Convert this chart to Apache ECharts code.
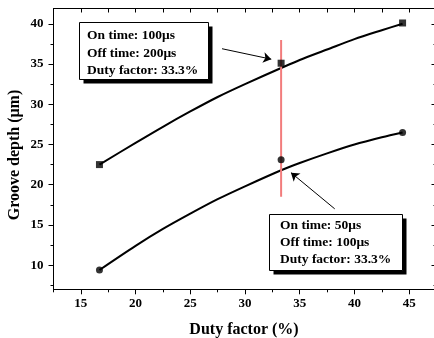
<!DOCTYPE html>
<html>
<head>
<meta charset="utf-8">
<script src="https://cdn.jsdelivr.net/npm/echarts@6/dist/echarts.min.js"></script>
<style>html,body{margin:0;padding:0;background:#fff;overflow:hidden;width:434px;height:338px}#c{width:437px;height:338px}</style>
</head>
<body>
<div id="c"></div>
<script>
// ---- data ----
var dutyFactor = [16.7, 33.3, 44.4];
var depthOn100 = [22.5, 35.1, 40.1];
var depthOn50 = [9.4, 23.1, 26.5];
var fitX = [16.7, 20, 22.5, 25, 27.5, 30, 33.3, 35, 37.5, 40, 42.5, 44.4];
var fitOn100 = [22.5, 25.2, 27.2, 29.1, 30.9, 32.5, 34.5, 35.5, 36.8, 38.1, 39.2, 40.0];
var fitOn50 = [9.4, 12.4, 14.5, 16.4, 18.2, 19.8, 21.8, 22.7, 23.9, 25.0, 25.9, 26.5];
var markerDuty = 33.3;
var markerRange = [18.5, 38.0];
var xMajorTicks = [15, 20, 25, 30, 35, 40, 45];
var xMinorTicks = [12.5, 17.5, 22.5, 27.5, 32.5, 37.5, 42.5, 47.5];
var yMajorTicks = [10, 15, 20, 25, 30, 35, 40];
var yMinorTicks = [7.5, 12.5, 17.5, 22.5, 27.5, 32.5, 37.5];
var box1Lines = ['On time: 100\u03bcs', 'Off time: 200\u03bcs', 'Duty factor: 33.3%'];
var box2Lines = ['On time: 50\u03bcs', 'Off time: 100\u03bcs', 'Duty factor: 33.3%'];
var arrow1 = [[27.9, 36.9], [32.4, 35.6]];
var arrow2 = [[38.2, 17.0], [34.2, 21.5]];
var xTitle = 'Duty factor (%)';
var yTitle = 'Groove depth (\u03bcm)';

// ---- build ----
function pairs(xs, ys) { return xs.map(function (x, i) { return [x, ys[i]]; }); }
var allX = xMajorTicks.concat(xMinorTicks).sort(function(a,b){return a-b;});
var FONT = '"Liberation Serif", "DejaVu Serif", serif';
var X_MIN = 12.5, X_MAX = 47.5, Y_MIN = 7, Y_MAX = 41.9;

function xAx(opts) {
  return Object.assign({
    type: 'value', min: X_MIN, max: X_MAX, position: 'bottom',
    splitLine: { show: false },
    axisLine: { show: false, onZero: false, lineStyle: { color: '#000', width: 1 } },
    axisLabel: { show: false },
    axisTick: { show: false }
  }, opts);
}
function yAx(opts) {
  return Object.assign({
    type: 'value', min: Y_MIN, max: Y_MAX, position: 'left',
    splitLine: { show: false },
    axisLine: { show: false, onZero: false, lineStyle: { color: '#000', width: 1 } },
    axisLabel: { show: false },
    axisTick: { show: false }
  }, opts);
}

var chart = echarts.init(document.getElementById('c'), null, { renderer: 'canvas' });

function boxGraphics(x, y, w, h, lines, tx, ty0, dy) {
  var g = [
    { type: 'rect', shape: { x: x + 4, y: y + 4, width: w, height: h }, style: { fill: '#000' }, z: 100 },
    { type: 'rect', shape: { x: x, y: y, width: w, height: h }, style: { fill: '#fff', stroke: '#000', lineWidth: 1 }, z: 101 }
  ];
  lines.forEach(function (t, i) {
    g.push({ type: 'text', x: tx, y: ty0 + i * dy, z: 102,
      style: { text: t, fill: '#000', font: 'bold 13.5px ' + FONT, verticalAlign: 'middle', align: 'left' } });
  });
  return g;
}

var graphics = []
  .concat(boxGraphics(79.5, 22.5, 129, 57, box1Lines, 87, 36, 17.5))
  .concat(boxGraphics(269.5, 214.5, 133, 56, box2Lines, 280, 226, 17))
  .concat([
    { type: 'text', x: 244, y: 330, z: 102,
      style: { text: xTitle, fill: '#000', font: 'bold 16px ' + FONT, align: 'center', verticalAlign: 'middle' } },
    { type: 'text', x: 15, y: 155, rotation: Math.PI / 2, z: 102,
      style: { text: yTitle, fill: '#000', font: 'bold 16px ' + FONT, align: 'center', verticalAlign: 'middle' } }
  ]);

var option = {
  animation: false,
  backgroundColor: '#fff',
  grid: { left: 53.5, top: 8.5, right: 0.5, bottom: 48.7, containLabel: false, outerBoundsMode: 'none', show: false },
  xAxis: [
    xAx({ axisLine: { show: true, onZero: false, lineStyle: { color: '#000', width: 1 } },
          axisTick: { show: true, customValues: xMajorTicks, length: 5, inside: false, lineStyle: { color: '#000' } },
          axisLabel: { show: true, customValues: xMajorTicks, margin: 8, color: '#000', fontFamily: FONT, fontWeight: 'bold', fontSize: 13 } }),
    xAx({ axisTick: { show: true, customValues: xMinorTicks, length: 3, inside: false, lineStyle: { color: '#000' } } }),
    xAx({ position: 'top', axisLine: { show: true, onZero: false, lineStyle: { color: '#000', width: 1 } },
          axisTick: { show: true, customValues: allX, length: 4, inside: true, lineStyle: { color: '#000' } } })
  ],
  yAxis: [
    yAx({ axisLine: { show: true, onZero: false, lineStyle: { color: '#000', width: 1 } },
          axisTick: { show: true, customValues: yMajorTicks, length: 5, inside: false, lineStyle: { color: '#000' } },
          axisLabel: { show: true, customValues: yMajorTicks, margin: 10, color: '#000', fontFamily: FONT, fontWeight: 'bold', fontSize: 13 } }),
    yAx({ axisTick: { show: true, customValues: yMinorTicks, length: 3, inside: false, lineStyle: { color: '#000' } } }),
    yAx({ position: 'right', axisLine: { show: true, onZero: false, lineStyle: { color: '#000', width: 1 } },
          axisTick: { show: true, customValues: yMajorTicks, length: 5, inside: true, lineStyle: { color: '#000' } } }),
    yAx({ position: 'right', axisTick: { show: true, customValues: yMinorTicks, length: 3, inside: true, lineStyle: { color: '#000' } } })
  ],
  series: [
    { type: 'line', data: pairs(fitX, fitOn100), smooth: 0.3, showSymbol: false, symbol: 'none',
      lineStyle: { color: '#000', width: 2 }, silent: true, z: 2 },
    { type: 'line', data: pairs(fitX, fitOn50), smooth: 0.3, showSymbol: false, symbol: 'none',
      lineStyle: { color: '#000', width: 2 }, silent: true, z: 2 },
    { type: 'line', data: [[markerDuty, markerRange[0]], [markerDuty, markerRange[1]]], symbol: 'none',
      lineStyle: { color: '#f27c7c', width: 2 }, silent: true, z: 3 },
    { type: 'scatter', data: pairs(dutyFactor, depthOn100), symbol: 'rect', symbolSize: 7,
      itemStyle: { color: '#000' }, silent: true, z: 4 },
    { type: 'scatter', data: pairs(dutyFactor, depthOn50), symbol: 'circle', symbolSize: 7,
      itemStyle: { color: '#000' }, silent: true, z: 4 },
    { type: 'scatter', data: [], silent: true, z: 5,
      markLine: {
        silent: true, animation: false,
        symbol: ['none', 'arrow'], symbolSize: 8,
        label: { show: false },
        lineStyle: { color: '#000', width: 1, type: 'solid' },
        itemStyle: { color: '#000' },
        emphasis: { disabled: true },
        data: [
          [{ coord: arrow1[0] }, { coord: arrow1[1] }],
          [{ coord: arrow2[0] }, { coord: arrow2[1] }]
        ]
      } }
  ],
  graphic: graphics
};
chart.setOption(option);
</script>
</body>
</html>
